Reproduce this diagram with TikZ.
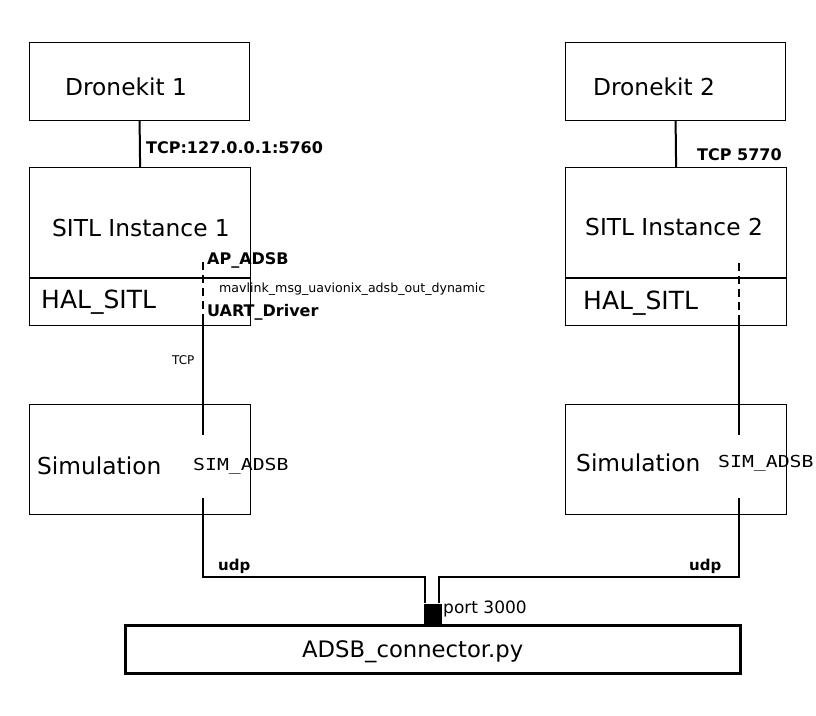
\documentclass[tikz,border=0pt]{standalone}
\usepackage{fontspec}
\setmainfont{DejaVu Sans}
\newfontfamily\monof[FakeStretch=1.2]{DejaVu Sans Mono}
\begin{document}
\begin{tikzpicture}[x=1pt,y=-1pt,
  box/.style={draw, line width=1.2pt, inner sep=0pt, anchor=north west},
  big/.style={font=\fontsize{23.3}{27}\selectfont, anchor=west, inner sep=0pt},
  lbl/.style={font=\bfseries\fontsize{16}{19}\selectfont, anchor=west, inner sep=0pt},
  smalllbl/.style={font=\fontsize{12.6}{15}\selectfont, anchor=west, inner sep=0pt},
  simlbl/.style={font=\monof\fontsize{16.5}{19}\selectfont, anchor=west, inner sep=0pt},
  conn/.style={line width=2pt},
  dsh/.style={line width=2pt, dash pattern=on 8pt off 5pt}]
\useasboundingbox (0,0) rectangle (816,715);
\fill[white] (0,0) rectangle (816,715);

% boxes
\node[box, minimum width=220pt, minimum height=78pt] (dk1) at (29,42) {};
\node[box, minimum width=220pt, minimum height=78pt] (dk2) at (565,42) {};
\node[box, minimum width=221pt, minimum height=158pt] (sitl1) at (29,167) {};
\node[box, minimum width=221pt, minimum height=158pt] (sitl2) at (565,167) {};
\node[box, minimum width=221pt, minimum height=110pt] (sim1) at (29,404) {};
\node[box, minimum width=221pt, minimum height=110pt] (sim2) at (565,404) {};
\node[box, line width=2.5pt, minimum width=615pt, minimum height=48pt] (adsb) at (124,624) {};

% dividers
\coordinate (dv1) at (29,278);
\coordinate (dv2) at (565,278);
\draw[line width=1.2pt] (dv1) -- (dv1 -| sitl1.east);
\draw[line width=1.2pt] (dv2) -- (dv2 -| sitl2.east);

% texts
\node[big] (t1) at (65,87) {Dronekit 1};
\node[big] (t2) at (593,87) {Dronekit 2};
\node[big] (t3) at (52,228) {SITL Instance 1};
\node[big] (t4) at (585,227) {SITL Instance 2};
\node[big, font=\fontsize{25}{29}\selectfont] (t5) at (41,302) {HAL\_SITL};
\node[big, font=\fontsize{25}{29}\selectfont] (t6) at (583,303) {HAL\_SITL};
\node[big] (t7) at (37,466) {Simulation};
\node[big] (t8) at (576,463) {Simulation};
\node[big, font=\fontsize{22.7}{27}\selectfont] (t9) at (302,652) {ADSB\_connector.py};

\node[lbl] (l1) at (146,148) {TCP:127.0.0.1:5760};
\node[lbl] (l2) at (697,155) {TCP 5770};
\node[lbl] (l3) at (207,260) {AP\_ADSB};
\node[lbl] (l4) at (207,312) {UART\_Driver};
\node[smalllbl] (l5) at (219,289) {mavlink\_msg\_uavionix\_adsb\_out\_dynamic};
\node[smalllbl, font=\fontsize{12}{14}\selectfont] (l6) at (172,360) {TCP};
\node[simlbl] (l7) at (193,466) {SIM\_ADSB};
\node[simlbl] (l8) at (718,463) {SIM\_ADSB};
\node[lbl, font=\bfseries\fontsize{15}{18}\selectfont] (l9) at (218,566) {udp};
\node[lbl, font=\bfseries\fontsize{15}{18}\selectfont] (l10) at (689,566) {udp};
\node[smalllbl, font=\fontsize{17}{20}\selectfont] (l11) at (443,609) {port 3000};

% port block
\node[fill=black, inner sep=0pt, minimum width=18pt, minimum height=20pt] (port) at (432.5,613.5) {};

% connectors top
\draw[conn] (dk1.south) -- (sitl1.north);
\draw[conn] (dk2.south) -- (sitl2.north);

% left chain
\coordinate (a1) at (203,262);
\coordinate (b1) at (203,316);
\coordinate (c1) at (203,435);
\coordinate (d1) at (203,498);
\coordinate (e1) at (203,577);
\coordinate (f1) at (425,577);
\draw[dsh] (a1) -- (b1);
\draw[conn] (b1) -- (c1);
\draw[conn] (d1) -- (e1) -- (f1) -- (f1 |- port.north);

% right chain
\coordinate (a2) at (739,263);
\coordinate (b2) at (739,323);
\coordinate (c2) at (739,435);
\coordinate (d2) at (739,498);
\coordinate (e2) at (739,577);
\coordinate (f2) at (439,577);
\draw[dsh] (a2) -- (b2);
\draw[conn] (b2) -- (c2);
\draw[conn] (d2) -- (e2) -- (f2) -- (f2 |- port.north);
\end{tikzpicture}
\end{document}
